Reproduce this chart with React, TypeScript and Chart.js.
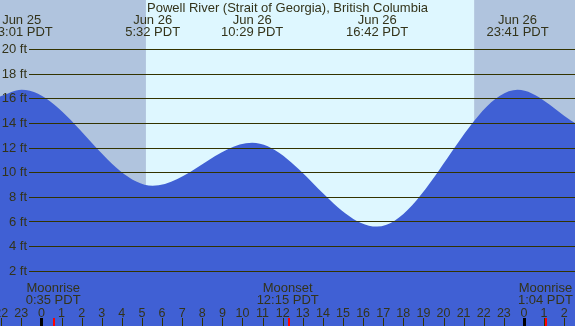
import React, { useEffect, useRef } from "react";
import { Chart, registerables } from "chart.js";

Chart.register(...registerables);

const stationTitle = "Powell River (Strait of Georgia), British Columbia";

// hours relative to midnight Jun 26 (PDT)
const viewStartHour = -2.06;
const viewEndHour = 26.54;
const tideHours = [-2.06, -0.983, 5.533, 10.483, 16.7, 23.683, 26.54];
const tideHeights = [16.15, 16.7, 8.9, 12.4, 5.58, 16.7, 14.0];

const extremeHours = [-0.983, 5.533, 10.483, 16.7, 23.683];
const extremeDates = ["Jun 25", "Jun 26", "Jun 26", "Jun 26", "Jun 26"];
const extremeTimes = ["23:01 PDT", "5:32 PDT", "10:29 PDT", "16:42 PDT", "23:41 PDT"];

const sunriseHour = 5.2;
const sunsetHour = 21.52;

const yTicks = [2, 4, 6, 8, 10, 12, 14, 16, 18, 20];
const yTickLabels = ["2 ft", "4 ft", "6 ft", "8 ft", "10 ft", "12 ft", "14 ft", "16 ft", "18 ft", "20 ft"];

const hourTicks = [-2, -1, 0, 1, 2, 3, 4, 5, 6, 7, 8, 9, 10, 11, 12, 13, 14, 15, 16, 17, 18, 19, 20, 21, 22, 23, 24, 25, 26];
const hourLabels = ["22", "23", "0", "1", "2", "3", "4", "5", "6", "7", "8", "9", "10", "11", "12", "13", "14", "15", "16", "17", "18", "19", "20", "21", "22", "23", "0", "1", "2"];
const midnightHours = [0, 24];

const moonHours = [0.583, 12.25, 25.067];
const moonNames = ["Moonrise", "Moonset", "Moonrise"];
const moonTimes = ["0:35 PDT", "12:15 PDT", "1:04 PDT"];

const FONT = '"Liberation Sans", Arial, sans-serif';
const TEXT = "#33331a";
const LINE = "#333300";
const NIGHT = "#b0c4de";
const DAY = "#def7ff";
const WATER = "#4060d4";

const tidePlugin = {
  id: "tideDecor",
  beforeDatasetsDraw(chart: any) {
    const { ctx, scales, width, height } = chart;
    const x = scales.x;
    const sr = x.getPixelForValue(sunriseHour);
    const ss = x.getPixelForValue(sunsetHour);
    ctx.save();
    ctx.fillStyle = NIGHT;
    ctx.fillRect(0, 0, sr, height);
    ctx.fillRect(ss, 0, width - ss, height);
    ctx.fillStyle = DAY;
    ctx.fillRect(sr, 0, ss - sr, height);
    ctx.restore();
  },
  afterDatasetsDraw(chart: any) {
    const { ctx, scales, width, height } = chart;
    const x = scales.x;
    const y = scales.y;
    ctx.save();
    // grid lines
    ctx.strokeStyle = LINE;
    ctx.lineWidth = 1;
    yTicks.forEach((v) => {
      const py = Math.round(y.getPixelForValue(v)) + 0.5;
      ctx.beginPath();
      ctx.moveTo(29, py);
      ctx.lineTo(width, py);
      ctx.stroke();
    });
    ctx.fillStyle = TEXT;
    ctx.font = `13px ${FONT}`;
    ctx.textAlign = "right";
    ctx.textBaseline = "middle";
    yTicks.forEach((v, i) => {
      ctx.fillText(yTickLabels[i], 27, y.getPixelForValue(v) + 0.5);
    });
    // title and extremes
    ctx.textAlign = "center";
    ctx.textBaseline = "alphabetic";
    ctx.fillText(stationTitle, width / 2, 12);
    extremeHours.forEach((h, i) => {
      const px = x.getPixelForValue(h);
      ctx.fillText(extremeDates[i], px, 24);
      ctx.fillText(extremeTimes[i], px, 36);
    });
    // moon events
    moonHours.forEach((h, i) => {
      const px = x.getPixelForValue(h);
      ctx.fillText(moonNames[i], px, 292);
      ctx.fillText(moonTimes[i], px, 304);
    });
    // hour labels
    ctx.font = `12.5px ${FONT}`;
    hourTicks.forEach((h, i) => {
      ctx.fillText(hourLabels[i], x.getPixelForValue(h), 317);
    });
    // ticks
    ctx.fillStyle = LINE;
    hourTicks.forEach((h) => {
      const px = Math.round(x.getPixelForValue(h));
      ctx.fillRect(px, 318, 1, height - 318);
    });
    ctx.fillStyle = "#000000";
    midnightHours.forEach((h) => {
      const px = Math.round(x.getPixelForValue(h));
      ctx.fillRect(px - 1, 318, 3, height - 318);
    });
    ctx.fillStyle = "#ff0000";
    moonHours.forEach((h) => {
      const px = Math.round(x.getPixelForValue(h));
      ctx.fillRect(px, 318, 2, height - 318);
    });
    ctx.restore();
  },
};

export default function App() {
  const ref = useRef<HTMLCanvasElement>(null);
  useEffect(() => {
    document.body.style.margin = "0";
    const canvas = ref.current!;
    const chart = new Chart(canvas, {
      type: "line",
      data: {
        datasets: [
          {
            data: tideHours.map((h, i) => ({ x: h, y: tideHeights[i] })),
            fill: "start",
            backgroundColor: WATER,
            borderWidth: 0,
            borderColor: WATER,
            pointRadius: 0,
            cubicInterpolationMode: "monotone",
          },
        ],
      },
      options: {
        animation: false,
        responsive: false,
        devicePixelRatio: 1,
        layout: { padding: 0 },
        plugins: { legend: { display: false }, tooltip: { enabled: false }, title: { display: false } },
        scales: {
          x: { type: "linear", min: viewStartHour, max: viewEndHour, display: false },
          y: { type: "linear", min: -2.5, max: 24, display: false },
        },
      },
      plugins: [tidePlugin],
    });
    return () => chart.destroy();
  }, []);
  return (
    <div style={{ position: "absolute", left: 0, top: 0, width: 575, height: 326 }}>
      <canvas ref={ref} width={575} height={326} style={{ display: "block" }} />
    </div>
  );
}
